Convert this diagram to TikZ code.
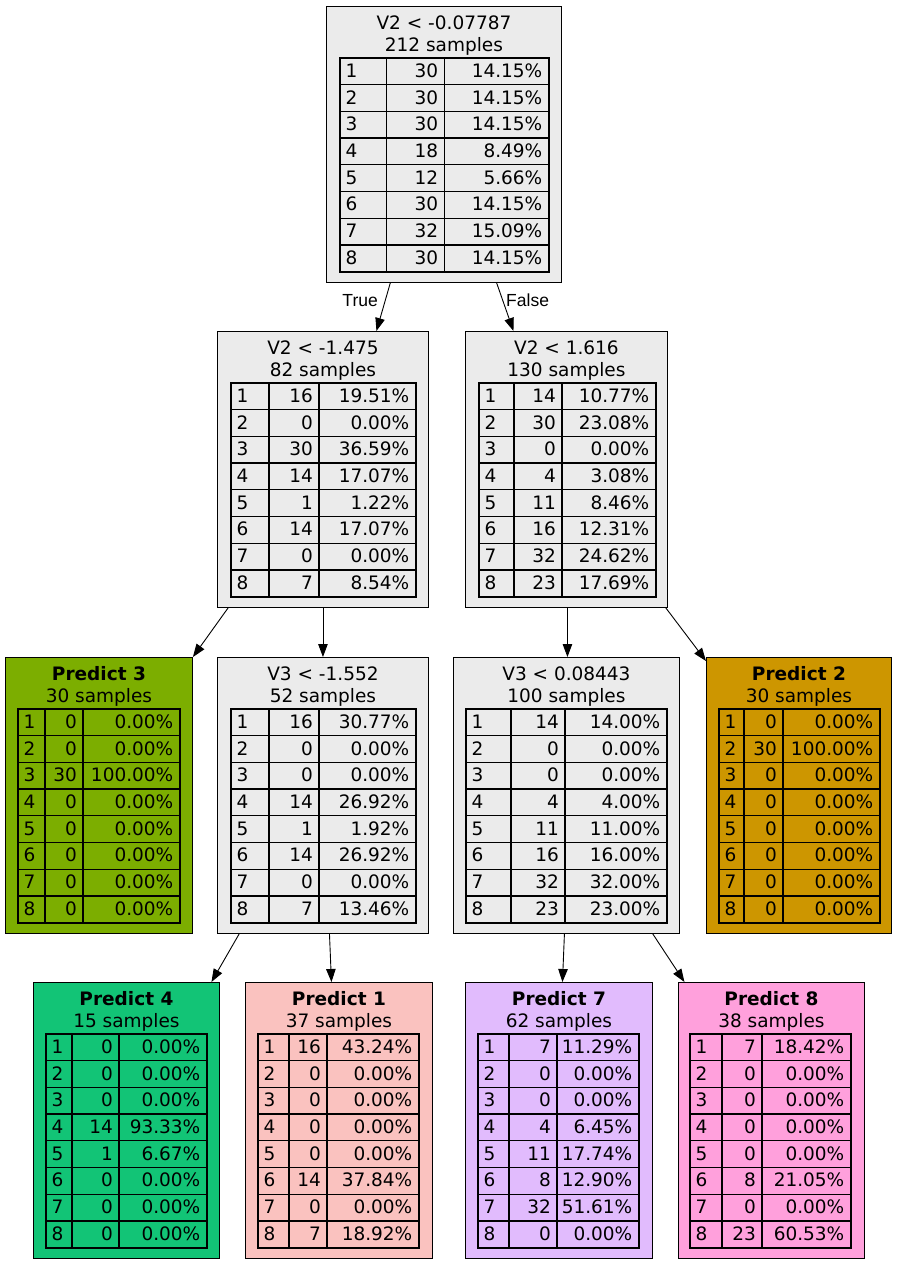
\documentclass[tikz,border=0pt]{standalone}
\usepackage{fontspec}
\setmainfont{DejaVu Sans}
\newfontfamily\edgefont{Liberation Sans}
\usetikzlibrary{arrows.meta}
\definecolor{splitgray}{HTML}{EBEBEB}
\definecolor{leafthree}{HTML}{7CAE00}
\definecolor{leaftwo}{HTML}{CD9600}
\definecolor{leaffour}{HTML}{12C476}
\definecolor{leafone}{HTML}{FAC2BF}
\definecolor{leafseven}{HTML}{E1BBFD}
\definecolor{leafeight}{HTML}{FFA0DC}
\tikzset{
  treebox/.style={draw,line width=0.9pt,anchor=north west,inner sep=0pt,minimum height=275.5pt},
  cellline/.style={draw,line width=1.3pt},
  tblframe/.style={draw,line width=2.2pt},
  celltxt/.style={inner sep=0pt},
  treeedge/.style={line width=0.9pt,-{Triangle[length=13pt,width=9.5pt]}},
}
% box with title and sample count
\newcommand{\dtnode}[7]{%
  \node[treebox,fill=#5,minimum width=#4pt-#2pt] (#1) at (#2,#3) {};
  \node[celltxt,anchor=base] (#1-title) at ([yshift=-23.3pt]#1.north) {#6};
  \node[celltxt,anchor=base] (#1-samples) at ([yshift=-45.7pt]#1.north) {#7};
}
% class table: name, left, col1, col2, right, top, rows
\newcommand{\dttable}[7]{%
  \foreach \k/\n/\p [count=\i from 0] in {#7} {
    \pgfmathsetmacro\ry{#6+\i*26.7}
    \draw[cellline] (#2,\ry) rectangle (#5,\ry+26.7);
    \draw[cellline] (#3,\ry) -- (#3,\ry+26.7) (#4,\ry) -- (#4,\ry+26.7);
    \node[celltxt,anchor=base west] (#1-k\i) at (#2+5.5,\ry+19.3) {\k};
    \node[celltxt,anchor=base east] (#1-n\i) at (#4-6,\ry+19.3) {\n};
    \node[celltxt,anchor=base east] (#1-p\i) at (#5-6.5,\ry+19.3) {\p};
  }
  \draw[tblframe] (#2,#6) rectangle (#5,#6+213.6);
}
\begin{document}
\begin{tikzpicture}[x=1pt,y=-1pt,font=\fontsize{18.5}{22}\selectfont]
  \useasboundingbox (0,0) rectangle (897,1264);
  % splits
  \dtnode{root}{326}{6}{561}{splitgray}{V2 < -0.07787}{212 samples}
  \dttable{root}{340}{386.7}{444.3}{549}{58}{1/30/14.15\%,2/30/14.15\%,3/30/14.15\%,4/18/8.49\%,5/12/5.66\%,6/30/14.15\%,7/32/15.09\%,8/30/14.15\%}
  \dtnode{nA}{217}{331}{428}{splitgray}{V2 < -1.475}{82 samples}
  \dttable{nA}{231}{269}{319}{416}{383}{1/16/19.51\%,2/0/0.00\%,3/30/36.59\%,4/14/17.07\%,5/1/1.22\%,6/14/17.07\%,7/0/0.00\%,8/7/8.54\%}
  \dtnode{nB}{465}{331}{667}{splitgray}{V2 < 1.616}{130 samples}
  \dttable{nB}{479}{514}{562}{656}{383}{1/14/10.77\%,2/30/23.08\%,3/0/0.00\%,4/4/3.08\%,5/11/8.46\%,6/16/12.31\%,7/32/24.62\%,8/23/17.69\%}
  \dtnode{nC}{217}{657}{428}{splitgray}{V3 < -1.552}{52 samples}
  \dttable{nC}{231}{269}{319}{416}{709}{1/16/30.77\%,2/0/0.00\%,3/0/0.00\%,4/14/26.92\%,5/1/1.92\%,6/14/26.92\%,7/0/0.00\%,8/7/13.46\%}
  \dtnode{nD}{453}{657}{679}{splitgray}{V3 < 0.08443}{100 samples}
  \dttable{nD}{466}{511}{565}{667}{709}{1/14/14.00\%,2/0/0.00\%,3/0/0.00\%,4/4/4.00\%,5/11/11.00\%,6/16/16.00\%,7/32/32.00\%,8/23/23.00\%}
  % leaves
  \dtnode{pthree}{5}{657}{192}{leafthree}{\textbf{Predict 3}}{30 samples}
  \dttable{pthree}{18}{45}{83}{180}{709}{1/0/0.00\%,2/0/0.00\%,3/30/100.00\%,4/0/0.00\%,5/0/0.00\%,6/0/0.00\%,7/0/0.00\%,8/0/0.00\%}
  \dtnode{ptwo}{706}{657}{891}{leaftwo}{\textbf{Predict 2}}{30 samples}
  \dttable{ptwo}{719}{744}{783}{880}{709}{1/0/0.00\%,2/30/100.00\%,3/0/0.00\%,4/0/0.00\%,5/0/0.00\%,6/0/0.00\%,7/0/0.00\%,8/0/0.00\%}
  \dtnode{pfour}{33}{982}{219}{leaffour}{\textbf{Predict 4}}{15 samples}
  \dttable{pfour}{46}{72}{119}{207}{1034}{1/0/0.00\%,2/0/0.00\%,3/0/0.00\%,4/14/93.33\%,5/1/6.67\%,6/0/0.00\%,7/0/0.00\%,8/0/0.00\%}
  \dtnode{pone}{245}{982}{432}{leafone}{\textbf{Predict 1}}{37 samples}
  \dttable{pone}{258}{289}{327}{419}{1034}{1/16/43.24\%,2/0/0.00\%,3/0/0.00\%,4/0/0.00\%,5/0/0.00\%,6/14/37.84\%,7/0/0.00\%,8/7/18.92\%}
  \dtnode{pseven}{465}{982}{652}{leafseven}{\textbf{Predict 7}}{62 samples}
  \dttable{pseven}{478}{509}{557}{639}{1034}{1/7/11.29\%,2/0/0.00\%,3/0/0.00\%,4/4/6.45\%,5/11/17.74\%,6/8/12.90\%,7/32/51.61\%,8/0/0.00\%}
  \dtnode{peight}{678}{982}{864}{leafeight}{\textbf{Predict 8}}{38 samples}
  \dttable{peight}{690}{722}{762}{851}{1034}{1/7/18.42\%,2/0/0.00\%,3/0/0.00\%,4/0/0.00\%,5/0/0.00\%,6/8/21.05\%,7/0/0.00\%,8/23/60.53\%}
  % edges
  \draw[treeedge] ([xshift=-53.5pt]root.south) -- node[pos=0.37,anchor=east,inner sep=0pt,xshift=-7pt,font=\edgefont\fontsize{17.5}{20}\selectfont]{True} ([xshift=53.5pt]nA.north);
  \draw[treeedge] ([xshift=52.5pt]root.south) -- node[pos=0.37,anchor=west,inner sep=0pt,xshift=3pt,font=\edgefont\fontsize{17.5}{20}\selectfont]{False} ([xshift=-53pt]nB.north);
  \draw[treeedge] ([xshift=-94.5pt]nA.south) -- (pthree.north east);
  \draw[treeedge] (nA.south) -- (nC.north);
  \draw[treeedge] ([xshift=1pt]nB.south) -- ([xshift=1pt]nD.north);
  \draw[treeedge] ([xshift=99pt]nB.south) -- ([yshift=-4pt]ptwo.north west);
  \draw[treeedge] ([xshift=-83.5pt]nC.south) -- ([xshift=85pt]pfour.north);
  \draw[treeedge] ([xshift=6.5pt]nC.south) -- ([xshift=-7.5pt]pone.north);
  \draw[treeedge] ([xshift=-2pt]nD.south) -- ([xshift=3.5pt]pseven.north);
  \draw[treeedge] ([xshift=86pt]nD.south) -- ([xshift=-87pt]peight.north);
\end{tikzpicture}
\end{document}
